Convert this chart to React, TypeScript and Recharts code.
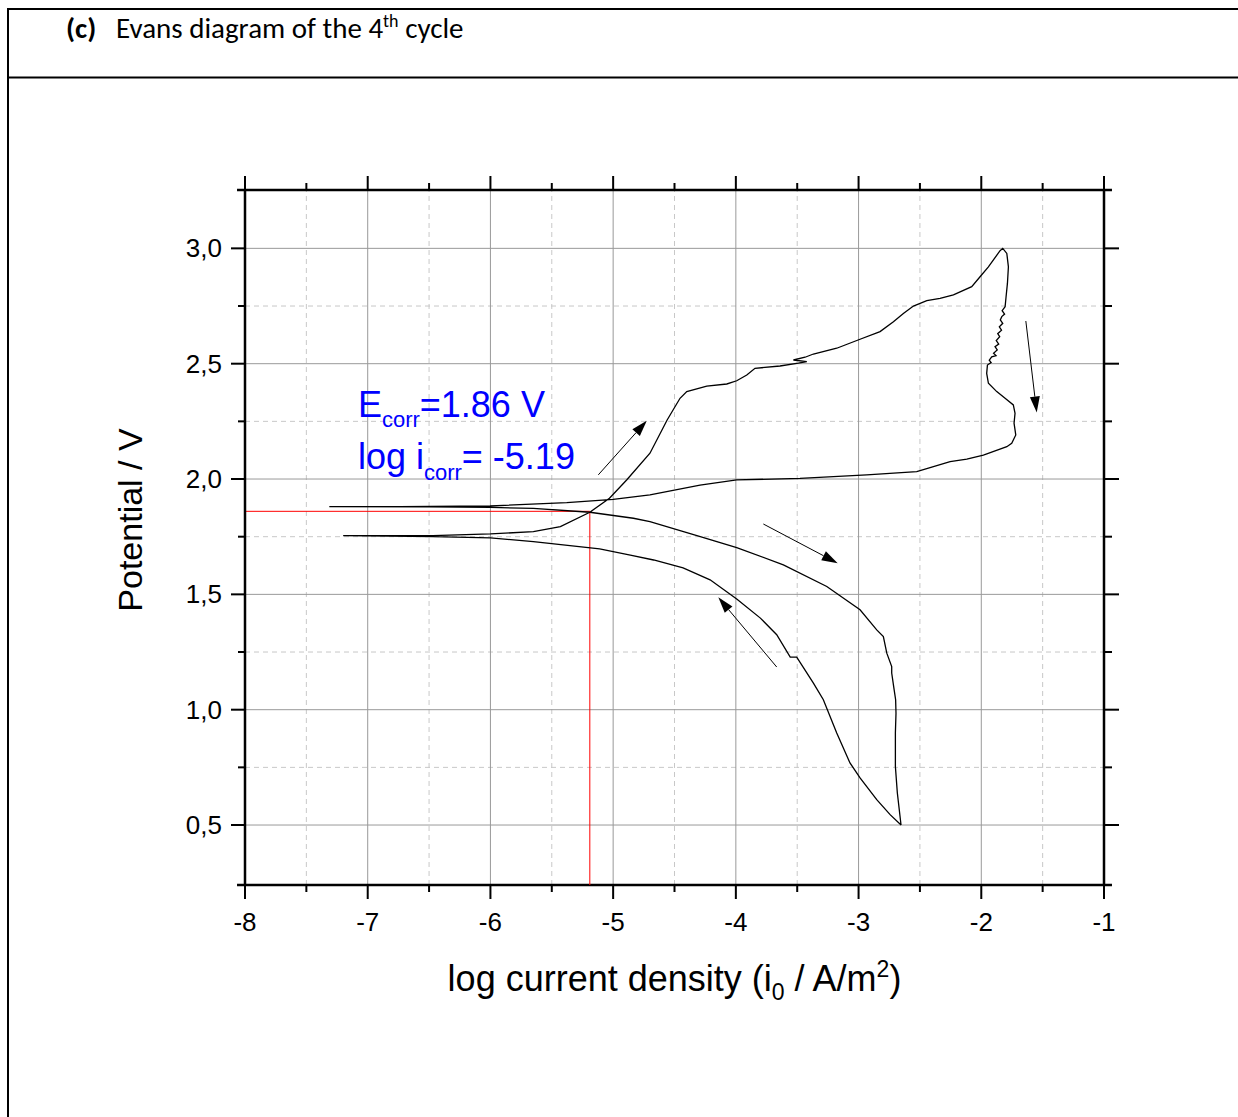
import React from 'react';
import { ComposedChart, Line, XAxis, YAxis, ReferenceLine, ReferenceDot } from 'recharts';

// Scan, in scan order: [log i (A/m2), E (V)]
// 1) from 0.5 V back up to the cathodic end
const CATHODIC_RETURN: [number, number][] = [
  [-2.654, 0.5], [-2.743, 0.545], [-2.852, 0.61], [-2.988, 0.704], [-3.07, 0.769],
  [-3.178, 0.899], [-3.287, 1.043], [-3.368, 1.115], [-3.504, 1.228], [-3.557, 1.228],
  [-3.667, 1.325], [-3.8, 1.397], [-3.993, 1.48], [-4.21, 1.563], [-4.43, 1.615],
  [-4.67, 1.649], [-4.86, 1.67], [-5.11, 1.697], [-5.65, 1.729], [-6.0, 1.745],
  [-6.47, 1.75], [-7.2, 1.755],
];
// 2) anodic branch up to the vertex at 3.0 V
const ANODIC_FORWARD: [number, number][] = [
  [-6.47, 1.755], [-6.0, 1.762], [-5.65, 1.772], [-5.43, 1.794], [-5.19, 1.856],
  [-5.03, 1.917], [-4.89, 1.996], [-4.7, 2.112], [-4.56, 2.256], [-4.455, 2.35],
  [-4.4, 2.379], [-4.237, 2.403], [-4.074, 2.412], [-3.993, 2.426], [-3.911, 2.451],
  [-3.844, 2.48], [-3.64, 2.49], [-3.491, 2.502], [-3.422, 2.509], [-3.531, 2.516],
  [-3.436, 2.528], [-3.368, 2.542], [-3.178, 2.567], [-2.988, 2.606], [-2.825, 2.639],
  [-2.716, 2.682], [-2.635, 2.718], [-2.553, 2.75], [-2.444, 2.773], [-2.336, 2.783],
  [-2.227, 2.798], [-2.078, 2.834], [-2.01, 2.877], [-1.942, 2.92], [-1.847, 2.99],
  [-1.825, 3.0],
];
// 3) reverse scan down the noisy flank and back to the left
const REVERSE_SCAN: [number, number][] = [
  [-1.792, 2.978], [-1.779, 2.92], [-1.787, 2.848], [-1.798, 2.79], [-1.806, 2.747],
  [-1.83, 2.73], [-1.81, 2.715], [-1.833, 2.704], [-1.845, 2.69], [-1.825, 2.675],
  [-1.853, 2.66], [-1.835, 2.645], [-1.866, 2.63], [-1.85, 2.617], [-1.878, 2.6],
  [-1.858, 2.585], [-1.888, 2.574], [-1.87, 2.56], [-1.9, 2.545], [-1.88, 2.535],
  [-1.915, 2.53], [-1.935, 2.515], [-1.92, 2.505], [-1.95, 2.494], [-1.956, 2.458],
  [-1.942, 2.415], [-1.874, 2.379], [-1.806, 2.35], [-1.739, 2.321], [-1.725, 2.285],
  [-1.733, 2.242], [-1.719, 2.191], [-1.752, 2.155], [-1.792, 2.14], [-1.983, 2.104],
  [-2.118, 2.086], [-2.254, 2.075], [-2.39, 2.054], [-2.526, 2.032], [-2.933, 2.018],
  [-3.477, 2.003], [-3.993, 1.996], [-4.292, 1.974], [-4.7, 1.931], [-5.0, 1.912],
  [-5.378, 1.898], [-6.003, 1.883], [-6.737, 1.88], [-7.313, 1.88],
];
// 4) cathodic branch down to 0.5 V
const CATHODIC_FORWARD: [number, number][] = [
  [-6.5, 1.879], [-6.0, 1.877], [-5.65, 1.873], [-5.19, 1.856], [-4.835, 1.83],
  [-4.7, 1.815], [-4.29, 1.75], [-3.993, 1.703], [-3.613, 1.628], [-3.259, 1.534],
  [-2.988, 1.433], [-2.852, 1.346], [-2.798, 1.317], [-2.77, 1.245], [-2.73, 1.187],
  [-2.73, 1.159], [-2.71, 1.086], [-2.698, 1.043], [-2.695, 0.985], [-2.7, 0.899],
  [-2.7, 0.754], [-2.684, 0.639], [-2.654, 0.5],
];

const X_MAJOR = [-8, -7, -6, -5, -4, -3, -2, -1];
const X_MINOR = [-7.5, -6.5, -5.5, -4.5, -3.5, -2.5, -1.5];
const Y_MAJOR = [0.5, 1.0, 1.5, 2.0, 2.5, 3.0];
const Y_MINOR = [0.75, 1.25, 1.75, 2.25, 2.75];

const E_CORR = 1.86;
const LOG_I_CORR = -5.19;

// scan-direction arrows: [tail log i, tail E, head log i, head E]
const ARROWS = [
  [-5.121, 2.018, -4.726, 2.253],
  [-3.776, 1.805, -3.17, 1.635],
  [-3.667, 1.185, -4.143, 1.487],
  [-1.637, 2.685, -1.548, 2.288],
];

const X_DOMAIN: [number, number] = [-8, -1];
const Y_DOMAIN: [number, number] = [0.24, 3.253];

const curve = [...CATHODIC_RETURN, ...ANODIC_FORWARD, ...REVERSE_SCAN, ...CATHODIC_FORWARD].map(
  ([x, y]) => ({ x, y })
);

const ARIAL = 'Liberation Sans, Arial, Helvetica, sans-serif';
const tickText = { fontFamily: ARIAL, fontSize: 26, fill: '#000' };

const isMajorX = (v: number) => Math.abs(v - Math.round(v)) < 1e-6;
const isMajorY = (v: number) => Math.abs(v * 2 - Math.round(v * 2)) < 1e-6;
const fmtY = (v: number) => v.toFixed(1).replace('.', ',');

const BottomTick = ({ x, y, payload }: any) => {
  const major = isMajorX(payload.value);
  return (
    <g>
      <line x1={x} x2={x} y1={y} y2={y + (major ? 14 : 7)} stroke="#000" strokeWidth={2} />
      {major && (
        <text x={x} y={y + 46} textAnchor="middle" {...tickText}>
          {payload.value}
        </text>
      )}
    </g>
  );
};

const TopTick = ({ x, y, payload }: any) => {
  const major = isMajorX(payload.value);
  return <line x1={x} x2={x} y1={y} y2={y - (major ? 14 : 7)} stroke="#000" strokeWidth={2} />;
};

const LeftTick = ({ x, y, payload }: any) => {
  const major = isMajorY(payload.value);
  return (
    <g>
      <line x1={x} x2={x - (major ? 14 : 7)} y1={y} y2={y} stroke="#000" strokeWidth={2} />
      {major && (
        <text x={x - 23} y={y + 9} textAnchor="end" {...tickText}>
          {fmtY(payload.value)}
        </text>
      )}
    </g>
  );
};

const RightTick = ({ x, y, payload }: any) => {
  const major = isMajorY(payload.value);
  return <line x1={x} x2={x + (major ? 15 : 8)} y1={y} y2={y} stroke="#000" strokeWidth={2} />;
};

const XTitle = ({ viewBox }: any) => (
  <text x={viewBox.x + viewBox.width / 2} y={viewBox.y + 106} textAnchor="middle" fontFamily={ARIAL} fontSize={36} fill="#000">
    {'log current density (i'}
    <tspan dy={9} fontSize={23}>0</tspan>
    <tspan dy={-9}>{' / A/m'}</tspan>
    <tspan dy={-14} fontSize={23}>2</tspan>
    <tspan dy={14}>)</tspan>
  </text>
);

const YTitle = ({ viewBox }: any) => {
  const cx = viewBox.x - 3;
  const cy = viewBox.y + 330;
  return (
    <text x={cx} y={cy} transform={`rotate(-90 ${cx} ${cy})`} textAnchor="middle" fontFamily={ARIAL} fontSize={34} fill="#000">
      Potential / V
    </text>
  );
};

const Arrow = ({ x1, y1, x2, y2 }: any) => {
  const len = Math.hypot(x2 - x1, y2 - y1) || 1;
  const ux = (x2 - x1) / len;
  const uy = (y2 - y1) / len;
  const bx = x2 - ux * 16;
  const by = y2 - uy * 16;
  const pts = `${x2},${y2} ${bx - uy * 5},${by + ux * 5} ${bx + uy * 5},${by - ux * 5}`;
  return (
    <g>
      <line x1={x1} y1={y1} x2={bx} y2={by} stroke="#000" strokeWidth={1} />
      <polygon points={pts} fill="#000" />
    </g>
  );
};

const EcorrText = ({ cx, cy }: any) => (
  <text x={cx} y={cy} fontFamily={ARIAL} fontSize={36} fill="#0000ff">
    E
    <tspan dy={10} fontSize={22}>corr</tspan>
    <tspan dy={-10}>{`=${E_CORR.toFixed(2)} V`}</tspan>
  </text>
);

const IcorrText = ({ cx, cy }: any) => (
  <text x={cx} y={cy} fontFamily={ARIAL} fontSize={36} fill="#0000ff">
    {'log i'}
    <tspan dy={11} fontSize={22}>corr</tspan>
    <tspan dy={-11}>{`= ${LOG_I_CORR.toFixed(2)}`}</tspan>
  </text>
);

const frameLine = { stroke: '#000', strokeWidth: 2.5 };

export default function App() {
  return (
    <div style={styles.page}>
      <svg width={1238} height={1117} style={styles.overlay}>
        <line x1={8} y1={9} x2={1238} y2={9} stroke="#000" strokeWidth={2} />
        <line x1={8} y1={77.5} x2={1238} y2={77.5} stroke="#000" strokeWidth={2} />
        <line x1={8} y1={8} x2={8} y2={1117} stroke="#000" strokeWidth={2} />
        <text x={66} y={38} fontFamily="Carlito, Lato, 'Open Sans', sans-serif" fontSize={29} fill="#000">
          <tspan fontWeight={700}>(c)</tspan>
          <tspan x={116}>Evans diagram of the 4</tspan>
          <tspan dy={-11} fontSize={18}>th</tspan>
          <tspan dy={11}>{' cycle'}</tspan>
        </text>
      </svg>
      <div style={styles.chart}>
        <ComposedChart width={1238} height={1117} data={curve} margin={{ top: 170, right: 114, bottom: 172, left: 145 }}>
          <XAxis
            dataKey="x"
            type="number"
            domain={X_DOMAIN}
            allowDataOverflow
            ticks={[...X_MAJOR, ...X_MINOR].sort((a, b) => a - b)}
            interval={0}
            height={60}
            axisLine={false}
            tickLine={false}
            tickSize={0}
            tickMargin={0}
            tick={BottomTick}
            label={XTitle}
          />
          <XAxis
            xAxisId="top"
            orientation="top"
            dataKey="x"
            type="number"
            domain={X_DOMAIN}
            allowDataOverflow
            ticks={[...X_MAJOR, ...X_MINOR].sort((a, b) => a - b)}
            interval={0}
            height={20}
            axisLine={false}
            tickLine={false}
            tickSize={0}
            tickMargin={0}
            tick={TopTick}
          />
          <YAxis
            type="number"
            domain={Y_DOMAIN}
            allowDataOverflow
            ticks={[...Y_MAJOR, ...Y_MINOR].sort((a, b) => a - b)}
            interval={0}
            width={100}
            axisLine={frameLine}
            tickLine={false}
            tickSize={0}
            tickMargin={0}
            tick={LeftTick}
            label={YTitle}
          />
          <YAxis
            yAxisId="right"
            orientation="right"
            type="number"
            domain={Y_DOMAIN}
            allowDataOverflow
            ticks={[...Y_MAJOR, ...Y_MINOR].sort((a, b) => a - b)}
            interval={0}
            width={20}
            axisLine={frameLine}
            tickLine={false}
            tickSize={0}
            tickMargin={0}
            tick={RightTick}
          />

          {X_MINOR.map((v) => (
            <ReferenceLine key={`xm${v}`} x={v} stroke="#c8c8c8" strokeDasharray="5 4" />
          ))}
          {Y_MINOR.map((v) => (
            <ReferenceLine key={`ym${v}`} y={v} stroke="#c8c8c8" strokeDasharray="5 4" />
          ))}
          {X_MAJOR.slice(1, -1).map((v) => (
            <ReferenceLine key={`xM${v}`} x={v} stroke="#999" />
          ))}
          {Y_MAJOR.map((v) => (
            <ReferenceLine key={`yM${v}`} y={v} stroke="#999" />
          ))}

          {/* top and bottom frame, running a little past the corners */}
          <ReferenceLine
            segment={[{ x: -8.065, y: Y_DOMAIN[0] }, { x: -0.935, y: Y_DOMAIN[0] }]}
            ifOverflow="visible"
            {...frameLine}
          />
          <ReferenceLine
            segment={[{ x: -8.065, y: Y_DOMAIN[1] }, { x: -0.935, y: Y_DOMAIN[1] }]}
            ifOverflow="visible"
            {...frameLine}
          />

          <ReferenceLine
            segment={[{ x: X_DOMAIN[0], y: E_CORR }, { x: LOG_I_CORR, y: E_CORR }]}
            stroke="#ff0000"
            strokeWidth={1}
          />
          <ReferenceLine
            segment={[{ x: LOG_I_CORR, y: Y_DOMAIN[0] }, { x: LOG_I_CORR, y: E_CORR }]}
            stroke="#ff0000"
            strokeWidth={1}
          />

          <Line
            type="linear"
            dataKey="y"
            stroke="#000"
            strokeWidth={1.3}
            dot={false}
            activeDot={false}
            isAnimationActive={false}
          />

          {ARROWS.map(([x1, y1, x2, y2], i) => (
            <ReferenceLine
              key={`arrow${i}`}
              segment={[{ x: x1, y: y1 }, { x: x2, y: y2 }]}
              ifOverflow="visible"
              shape={Arrow}
            />
          ))}

          <ReferenceDot x={-7.08} y={2.269} r={0} shape={EcorrText} />
          <ReferenceDot x={-7.08} y={2.042} r={0} shape={IcorrText} />
        </ComposedChart>
      </div>
    </div>
  );
}

const styles: Record<string, React.CSSProperties> = {
  page: {
    position: 'absolute',
    top: 0,
    left: 0,
    width: 1238,
    height: 1117,
    background: '#fff',
    overflow: 'hidden',
  },
  overlay: {
    position: 'absolute',
    top: 0,
    left: 0,
    pointerEvents: 'none',
  },
  chart: {
    position: 'absolute',
    top: 0,
    left: 0,
  },
};
